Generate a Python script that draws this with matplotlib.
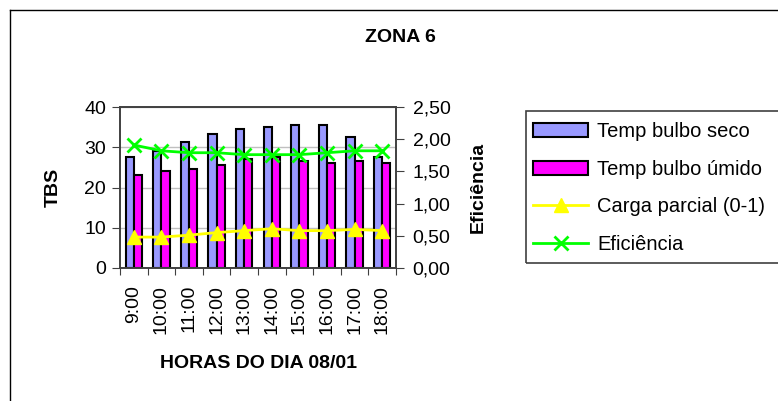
import matplotlib
matplotlib.use("Agg")
import matplotlib.pyplot as plt
import numpy as np
from matplotlib.lines import Line2D
from matplotlib.patches import Rectangle

plt.rcParams['font.family'] = ['Liberation Sans', 'DejaVu Sans']

horas = ["9:00", "10:00", "11:00", "12:00", "13:00", "14:00", "15:00", "16:00", "17:00", "18:00"]
bulbo_seco = [27.7, 29.1, 31.2, 33.3, 34.6, 35.1, 35.6, 35.6, 32.6, 27.7]
bulbo_umido = [23.1, 24.2, 24.6, 25.6, 27.2, 27.7, 26.7, 26.2, 26.7, 26.2]
carga_parcial = [0.48, 0.48, 0.51, 0.55, 0.58, 0.61, 0.58, 0.58, 0.60, 0.58]
eficiencia = [1.91, 1.82, 1.79, 1.79, 1.76, 1.76, 1.76, 1.79, 1.82, 1.82]

W, H = 778, 401
FS = 14


def fx(px):
    return px / W


def fy(py):
    return 1 - py / H


fig = plt.figure(figsize=(W / 100, H / 100), dpi=100)
fig.patch.set_facecolor("white")

# chart border (only the left and top edges fall inside the canvas)
fig.add_artist(Line2D([fx(9.5), fx(9.5)], [fy(9.5), fy(H + 5)],
                      transform=fig.transFigure, color="black", linewidth=1))
fig.add_artist(Line2D([fx(9.5), fx(W + 5)], [fy(9.5), fy(9.5)],
                      transform=fig.transFigure, color="black", linewidth=1))

ax = fig.add_axes([fx(120), fy(268), fx(276), 161 / H])
ax2 = ax.twinx()

x = np.arange(len(horas))
bw = 0.3
b1 = ax.bar(x - bw / 2, bulbo_seco, bw, color="#9999ff", edgecolor="black",
            linewidth=1.5, label="Temp bulbo seco")
b2 = ax.bar(x + bw / 2, bulbo_umido, bw, color="#ff00ff", edgecolor="black",
            linewidth=1.5, label="Temp bulbo úmido")

l1, = ax2.plot(x, carga_parcial, color="#ffff00", linewidth=2, marker="^",
               markersize=10, label="Carga parcial (0-1)")
l2, = ax2.plot(x, eficiencia, color="#00ff00", linewidth=2, marker="x",
               markersize=10, markeredgewidth=2, label="Eficiência")

ax.set_xlim(-0.5, len(horas) - 0.5)
ax.set_ylim(0, 40)
ax.set_yticks([0, 10, 20, 30, 40])
ax2.set_ylim(0, 2.5)
ax2.set_yticks([0, 0.5, 1.0, 1.5, 2.0, 2.5])
ax2.set_yticklabels([f"{v:.2f}".replace(".", ",") for v in ax2.get_yticks()])

ax.set_xticks(np.arange(-0.5, len(horas), 1.0))
ax.set_xticklabels([])
ax.set_xticks(x, minor=True)
ax.set_xticklabels(horas, minor=True, rotation=90, fontsize=FS)
ax.tick_params(axis="x", which="minor", length=0, pad=12)
ax.tick_params(axis="x", which="major", length=5, direction="out", color="#404040")

ax.yaxis.grid(True, color="#c0c0c0", linewidth=1)
ax.set_axisbelow(True)
ax.tick_params(axis="y", labelsize=FS, length=6, color="#404040", pad=4)
ax2.tick_params(axis="y", labelsize=FS, length=6, color="#404040", pad=6)

for a in (ax, ax2):
    for s in a.spines.values():
        s.set_color("#404040")
        s.set_linewidth(1.2)

ax.set_ylabel("TBS", fontsize=FS, fontweight="bold", labelpad=16)
ax2.set_ylabel("Eficiência", fontsize=FS, fontweight="bold", labelpad=14)
ax.set_xlabel("HORAS DO DIA 08/01", fontsize=FS, fontweight="bold", labelpad=15)

fig.text(fx(400), fy(37), "ZONA 6", fontsize=FS, fontweight="bold",
         ha="center", va="center")

# legend frame runs past the right edge of the canvas
fig.add_artist(Rectangle((fx(526), fy(262.7)), fx(300), (262.7 - 110.7) / H,
                         transform=fig.transFigure, fill=False,
                         edgecolor="#404040", linewidth=1.2))
leg = fig.legend(handles=[b1, b2, l1, l2], loc="upper left",
                 bbox_to_anchor=(fx(533), fy(122)), fontsize=14.5,
                 frameon=False, handlelength=2.75, handletextpad=0.45,
                 labelspacing=0.93, borderpad=0, borderaxespad=0)

fig.savefig("out.png", dpi=100)
